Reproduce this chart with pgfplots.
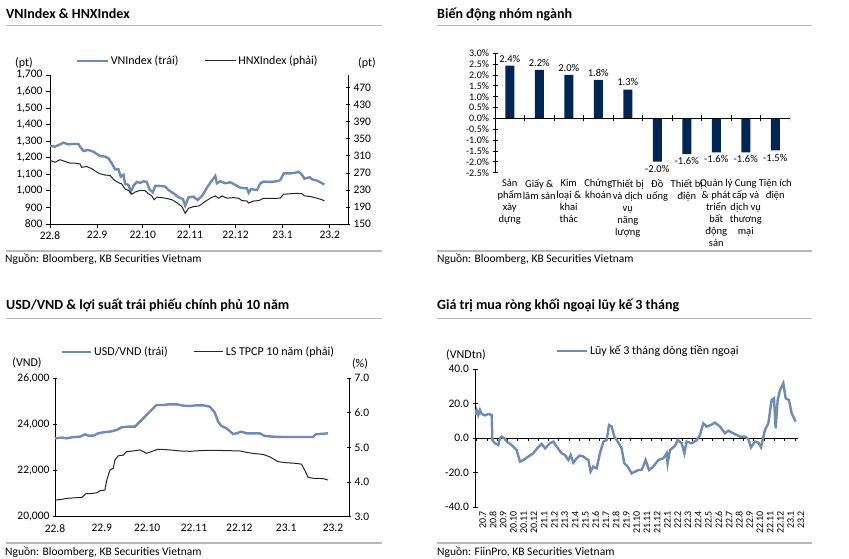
\documentclass[border=0pt]{standalone}
\usepackage{fontspec}
\setmainfont{Carlito}
\usepackage{pgfplots}
\pgfplotsset{compat=1.18}
\definecolor{vnblue}{RGB}{111,138,180}
\definecolor{navy}{RGB}{0,38,84}
\definecolor{sepgray}{RGB}{185,185,185}
\pgfplotsset{
  every axis/.append style={scale only axis, anchor=south west,
    font=\fontsize{11.5}{13}\selectfont,
    /pgf/number format/assume math mode=true,
    scaled y ticks=false, scaled x ticks=false,
    axis line style={black, line width=0.8pt},
    every tick/.style={black, line width=0.8pt},
    major tick length=4pt,
    legend cell align=left},
}
\begin{document}
\begin{tikzpicture}[x=1pt,y=1pt]
\path[use as bounding box] (0pt,0pt) rectangle (849pt,559pt);
% ---------------- titles, separators, sources
\node[anchor=west,inner sep=0pt,font=\fontsize{14}{16}\selectfont\bfseries] at (6pt,545pt) {VNIndex \& HNXIndex};
\node[anchor=west,inner sep=0pt,font=\fontsize{14}{16}\selectfont\bfseries] at (437pt,545pt) {Biến động nhóm ngành};
\node[anchor=west,inner sep=0pt,font=\fontsize{14}{16}\selectfont\bfseries] at (6pt,254pt) {USD/VND \& lợi suất trái phiếu chính phủ 10 năm};
\node[anchor=west,inner sep=0pt,font=\fontsize{14}{16}\selectfont\bfseries] at (437pt,254pt) {Giá trị mua ròng khối ngoại lũy kế 3 tháng};
\draw[sepgray,line width=0.9pt] (6pt,534pt) -- (382pt,534pt);
\draw[sepgray,line width=0.9pt] (437pt,534pt) -- (812pt,534pt);
\draw[sepgray,line width=0.9pt] (6pt,241pt) -- (382pt,241pt);
\draw[sepgray,line width=0.9pt] (437pt,241pt) -- (812pt,241pt);
\draw[sepgray,line width=1.5pt] (6pt,308pt) -- (382pt,308pt);
\draw[sepgray,line width=1.5pt] (437pt,308pt) -- (812pt,308pt);
\draw[sepgray,line width=1.5pt] (6pt,16pt) -- (382pt,16pt);
\draw[sepgray,line width=1.5pt] (437pt,16pt) -- (812pt,16pt);
\node[anchor=west,inner sep=0pt,font=\fontsize{11.5}{13}\selectfont] at (5pt,300pt) {Nguồn: Bloomberg, KB Securities Vietnam};
\node[anchor=west,inner sep=0pt,font=\fontsize{11.5}{13}\selectfont] at (437pt,300pt) {Nguồn: Bloomberg, KB Securities Vietnam};
\node[anchor=west,inner sep=0pt,font=\fontsize{11.5}{13}\selectfont] at (5pt,7pt) {Nguồn: Bloomberg, KB Securities Vietnam};
\node[anchor=west,inner sep=0pt,font=\fontsize{11.5}{13}\selectfont] at (437pt,7pt) {Nguồn: FiinPro, KB Securities Vietnam};
% unit labels
\node[font=\fontsize{12}{14}\selectfont] at (24pt,496pt) {(pt)};
\node[font=\fontsize{12}{14}\selectfont] at (367pt,496pt) {(pt)};
\node[font=\fontsize{12}{14}\selectfont] at (27pt,196pt) {(VND)};
\node[font=\fontsize{12}{14}\selectfont] at (360pt,195pt) {(\%)};
\node[font=\fontsize{12}{14}\selectfont] at (466pt,204pt) {(VNDtn)};

% ================= Panel 1: VNIndex & HNXIndex
\begin{axis}[at={(50pt,335pt)}, width=298pt, height=149pt,
  xmin=0, xmax=196, ymin=800, ymax=1700,
  axis x line*=bottom, axis y line*=left, tick align=outside,
  ytick={800,900,...,1700},
  y tick label style={/pgf/number format/1000 sep={,}},
  xtick={0,31,61,92,122,153,184},
  xticklabels={22.8,22.9,22.10,22.11,22.12,23.1,23.2},
  legend style={at={(0.495,1.094)}, anchor=center, draw=none, fill=none,
    legend columns=2, font=\fontsize{12}{14}\selectfont,
    /tikz/every even column/.append style={column sep=24pt}},
  legend image code/.code={\draw[#1] (0pt,0pt) -- (31pt,0pt);}]
\addplot[vnblue, line width=2.4pt] coordinates {
(0,1273)(3.29,1267)(6.59,1281)(8.78,1291)(12.08,1281)(14.27,1283)(18.66,1283)(19.76,1267)(21.96,1241)(25.25,1247)(28.54,1237)(30.74,1223)(32.94,1211)(36.23,1207)(38.43,1197)(40.62,1166)(42.82,1130)(45.02,1130)(46.55,1086)(48.31,1098)(49.41,1042)(51.60,1036)(53.14,995)(54.90,1030)(57.09,1054)(59.29,1048)(61.48,1058)(63.68,1054)(65.44,1009)(67.63,991)(69.17,1030)(72.46,1030)(75.76,1026)(77.95,1005)(81.25,985)(84.54,961)(87.40,951)(88.93,911)(91.13,961)(94.42,965)(97.06,945)(99.91,969)(101.45,991)(103.64,1026)(106.50,1062)(108.70,1090)(109.79,1046)(111.99,1058)(115.28,1046)(118.58,1052)(121.87,1036)(125.16,1019)(129.56,1015)(130.66,989)(132.19,1011)(136.14,1005)(138.34,1046)(140.54,1056)(144.93,1054)(149.32,1058)(151.52,1066)(153.71,1106)(158.10,1106)(161.40,1110)(163.59,1116)(165.79,1096)(167.33,1074)(170.84,1082)(172.38,1070)(175.67,1062)(178.96,1046)(180.50,1038)};
\addlegendentry{VNIndex (trái)}
\addlegendimage{black!85, line width=1pt}
\addlegendentry{HNXIndex (phải)}
\end{axis}
\begin{axis}[at={(50pt,335pt)}, width=298pt, height=149pt,
  xmin=0, xmax=196, ymin=150, ymax=500,
  axis x line=none, axis y line*=right, tick align=center,
  ytick={150,190,...,470}]
\addplot[black!85, line width=1pt] coordinates {
(0,299.4)(3.29,295)(6.59,301)(9.88,297)(13.18,293)(16.47,293)(19.76,291)(20.86,283)(24.15,285)(27.45,280)(30.74,272)(32.94,268)(36.23,265)(39.53,264)(41.72,255)(45.02,247)(47.21,244)(49.41,232)(51.60,229)(53.80,220)(55.99,225)(59.29,229)(62.58,228)(64.78,221)(66.97,216)(68.51,207)(70.27,213)(73.56,212)(76.86,210)(80.15,207)(83.44,200)(86.74,191)(88.93,175)(91.13,187)(94.42,191)(97.72,192)(99.91,197)(102.11,203)(105.40,210.5)(108.70,216)(110.89,210.5)(113.09,216)(116.38,210.5)(120.77,212)(124.07,210.5)(126.26,205)(129.56,204)(130.66,199)(133.95,204)(137.24,205)(140.54,210.5)(143.83,210)(148.22,210)(151.52,211)(153.71,220)(158.10,221)(162.49,222)(165.79,221)(167.33,216)(171.28,214.5)(175.67,210.5)(178.96,207)(180.50,204)};
\end{axis}

% ================= Panel 2: bars
\begin{axis}[at={(495pt,386.3pt)}, width=295pt, height=119.4pt,
  ybar, bar width=9pt, xmin=-0.5, xmax=9.5, ymin=-2.5, ymax=3.0,
  axis y line*=left, axis x line*=bottom, x axis line style={draw=none},
  xtick={0,...,9}, x tick style={draw=none},
  xticklabels={{Sản\\phẩm\\xây\\dựng},{Giấy \&\\lâm sản},{Kim\\loại \&\\khai\\thác},{Chứng\\khoán},{Thiết bị\\và dịch\\vụ\\năng\\lượng},{Đồ\\uống},{Thiết bị\\điện},{Quản lý\\\& phát\\triển\\bất\\động\\sản},{Cung\\cấp và\\dịch vụ\\thương\\mại},{Tiện ích\\điện}},
  x tick label style={font=\fontsize{10.5}{12}\selectfont, align=center, anchor=north, inner sep=1pt, yshift=-3pt},
  ytick={-2.5,-2,...,3}, tick align=center, major tick length=5pt,
  yticklabel={\pgfmathprintnumber[fixed,fixed zerofill,precision=1]{\tick}\%},
  y tick label style={font=\fontsize{10}{12}\selectfont},
  nodes near coords={\pgfmathprintnumber[fixed,fixed zerofill,precision=1]{\pgfplotspointmeta}\%},
  nodes near coords style={font=\fontsize{10.5}{12}\selectfont, black}]
\addplot[fill=navy, draw=none] coordinates {(0,2.43)(1,2.24)(2,2.01)(3,1.77)(4,1.33)(5,-1.99)(6,-1.64)(7,-1.56)(8,-1.56)(9,-1.47)};
\draw[black, line width=0.8pt] (axis cs:-0.5,0) -- (axis cs:9.5,0);
\pgfplotsinvokeforeach{-0.5,0.5,...,9.5}{\draw[black,line width=0.8pt] ([yshift=-3pt]axis cs:#1,0) -- ([yshift=3pt]axis cs:#1,0);}
\end{axis}

% ================= Panel 3: USD/VND & bond yield
\begin{axis}[at={(55pt,42.3pt)}, width=294pt, height=138.4pt,
  xmin=0, xmax=194.6, ymin=20000, ymax=26000,
  axis x line*=bottom, axis y line*=left, tick align=center,
  ytick={20000,22000,24000,26000},
  y tick label style={/pgf/number format/1000 sep={,}},
  xtick={0,31,61,92,122,153,184}, x tick style={draw=none},
  xticklabels={22.8,22.9,22.10,22.11,22.12,23.1,23.2},
  x tick label style={yshift=-2pt},
  legend style={at={(0.488,1.192)}, anchor=center, draw=none, fill=none,
    legend columns=2, font=\fontsize{12}{14}\selectfont,
    /tikz/every even column/.append style={column sep=24pt}},
  legend image code/.code={\draw[#1] (0pt,0pt) -- (29pt,0pt);}]
\addplot[vnblue, line width=2.4pt] coordinates {
(0,23398)(4.41,23427)(7.71,23398)(11.02,23441)(16.53,23470)(19.83,23571)(22.04,23513)(25.34,23513)(28.65,23615)(31.95,23658)(36.36,23687)(40.77,23759)(44.07,23875)(48.48,23904)(52.89,23904)(56.19,24120)(59.50,24337)(62.80,24554)(65.01,24699)(67.21,24843)(71.62,24843)(76.02,24872)(80.43,24872)(84.84,24814)(89.25,24800)(93.65,24829)(98.06,24829)(102.47,24771)(105.77,24511)(107.98,24120)(110.18,23933)(113.49,23831)(117.89,23586)(120.10,23615)(123.40,23687)(126.71,23615)(131.11,23615)(135.52,23615)(138.83,23499)(144.34,23470)(150.95,23455)(157.56,23455)(164.17,23455)(170.78,23455)(172.54,23571)(175.19,23586)(180.70,23615)};
\addlegendentry{USD/VND (trái)}
\addlegendimage{black!85, line width=1pt}
\addlegendentry{LS TPCP 10 năm (phải)}
\end{axis}
\begin{axis}[at={(55pt,42.3pt)}, width=294pt, height=138.4pt,
  xmin=0, xmax=194.6, ymin=3, ymax=7,
  axis x line=none, axis y line*=right, tick align=center,
  ytick={3,4,5,6,7},
  yticklabel={\pgfmathprintnumber[fixed,fixed zerofill,precision=1]{\tick}}]
\addplot[black!85, line width=1pt] coordinates {
(0,3.48)(4.41,3.50)(7.71,3.53)(14.32,3.55)(17.63,3.55)(20.49,3.67)(24.24,3.67)(27.55,3.69)(29.75,3.75)(33.05,3.77)(34.16,4.04)(36.36,4.35)(38.56,4.40)(39.67,4.64)(41.87,4.76)(45.17,4.78)(47.38,4.88)(51.79,4.90)(56.19,4.93)(60.60,4.83)(65.01,4.90)(68.31,4.95)(76.02,4.93)(82.64,4.90)(89.25,4.89)(95.86,4.91)(104.67,4.92)(113.49,4.91)(122.30,4.90)(126.71,4.86)(131.11,4.83)(137.73,4.80)(142.13,4.73)(147.64,4.59)(153.15,4.56)(159.76,4.54)(163.07,4.52)(165.27,4.35)(167.47,4.14)(170.78,4.11)(175.19,4.11)(178.49,4.09)(180.70,4.06)};
\end{axis}

% ================= Panel 4: foreign net buying
\begin{axis}[at={(475pt,51.7pt)}, width=323pt, height=138pt,
  xmin=-0.16, xmax=31.3, ymin=-40, ymax=40,
  axis y line*=left, axis x line*=bottom, x axis line style={draw=none},
  xtick={0,...,31}, x tick style={draw=none},
  xticklabels={20.7,20.8,20.9,20.10,20.11,20.12,21.1,21.2,21.3,21.4,21.5,21.6,21.7,21.8,21.9,21.10,21.11,21.12,22.1,22.2,22.3,22.4,22.5,22.6,22.7,22.8,22.9,22.10,22.11,22.12,23.1,23.2},
  x tick label style={font=\fontsize{10}{11}\selectfont, rotate=90, anchor=east, inner sep=1pt, yshift=-6pt},
  ytick={-40,-20,0,20,40}, tick align=center, major tick length=5pt,
  yticklabel={\pgfmathprintnumber[fixed,fixed zerofill,precision=1]{\tick}},
  legend style={at={(0.536,1.133)}, anchor=center, draw=none, fill=none,
    font=\fontsize{12}{14}\selectfont},
  legend image code/.code={\draw[#1] (0pt,0pt) -- (30pt,0pt);}]
\draw[black, line width=0.8pt] (axis cs:-0.16,0) -- (axis cs:31.3,0);
\pgfplotsinvokeforeach{0,...,31}{\draw[black,line width=0.8pt] (axis cs:#1,0) -- ([yshift=-3pt]axis cs:#1,0);}
\addplot[vnblue, line width=2.4pt] coordinates {
(-0.16,13.5)(0,16.4)(0.16,13.5)(0.32,16.4)(0.49,14.1)(0.81,13.3)(1.14,14.1)(1.46,13.5)(1.53,-1)(1.79,-2.9)(2.11,-3.9)(2.27,0)(2.44,1)(2.69,0)(2.92,-1.9)(3.41,-3.9)(3.90,-6.8)(4.22,-13.5)(4.55,-12.6)(5.03,-10.6)(5.52,-8.7)(5.84,-6.2)(6.33,-3.3)(6.66,-5.8)(7.14,-2.9)(7.47,-1.9)(7.79,-4.8)(8.28,-8.7)(8.60,-9.7)(8.93,-12.6)(9.16,-9.7)(9.42,-14.1)(9.74,-11.6)(10.06,-10)(10.39,-10.6)(10.88,-12.6)(11.10,-19.3)(11.36,-16.4)(11.69,-17.4)(12.01,-8.7)(12.34,-1.9)(12.66,-1)(12.89,7.7)(13.15,6.8)(13.41,1)(13.64,-1)(14.12,-5.8)(14.38,-14.5)(14.71,-16.4)(15.10,-20.3)(15.42,-19.3)(15.75,-18.4)(16.07,-18.4)(16.46,-12.6)(16.79,-18.4)(17.21,-16.4)(17.69,-12.6)(18.18,-11.6)(18.51,-8.7)(18.60,-14.5)(18.83,-6.8)(19.32,-4.4)(19.58,-1)(19.97,-2.9)(20.23,-8.7)(20.45,-1.9)(20.94,-2.9)(21.43,-1)(21.75,1.9)(22.08,8.7)(22.40,6.8)(22.82,7.7)(23.21,9.1)(23.70,6.8)(24.19,2.9)(24.51,4.4)(25.00,2.9)(25.65,1)(26.14,1)(26.46,-0.4)(26.72,-5.2)(27.11,-1.9)(27.44,-2.5)(27.69,-5.2)(28.08,4.8)(28.41,8.7)(28.73,22.2)(28.96,23.2)(29.12,5.8)(29.32,22.2)(29.55,28)(29.87,31.9)(30.10,23.2)(30.42,22.2)(30.68,14.5)(31.07,9.7)};
\addlegendentry{Lũy kế 3 tháng dòng tiền ngoại}
\end{axis}
\end{tikzpicture}
\end{document}
